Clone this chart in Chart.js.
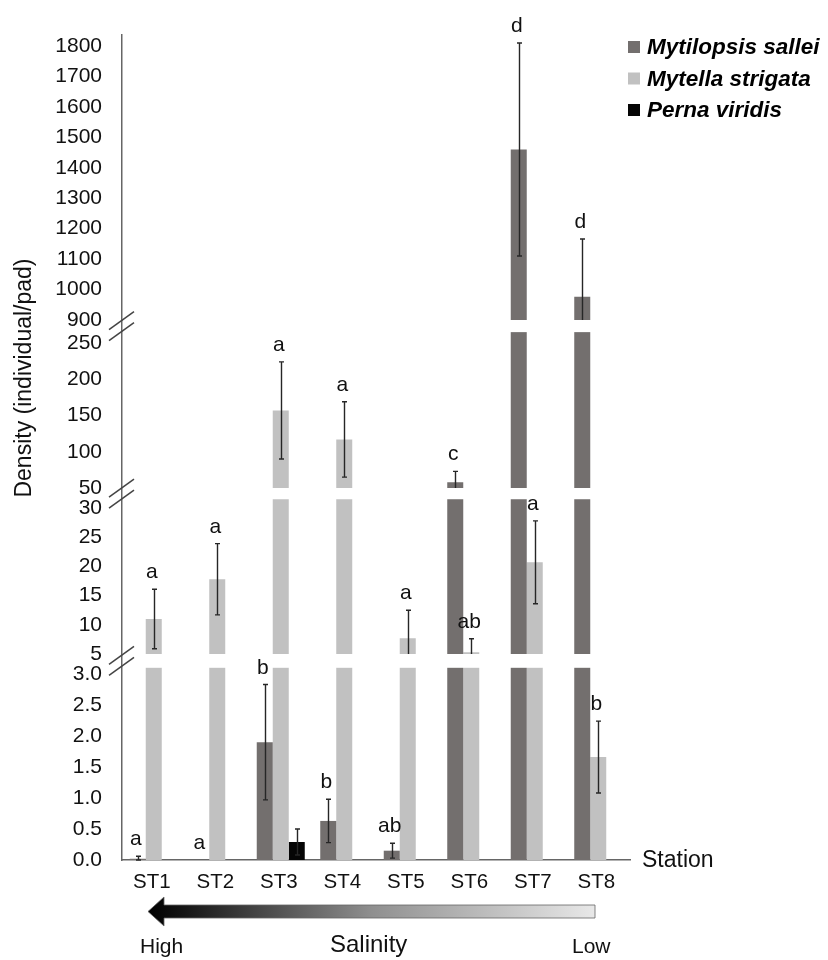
<!DOCTYPE html>
<html><head><meta charset="utf-8">
<script src="https://cdn.jsdelivr.net/npm/chart.js@4.4.1/dist/chart.umd.min.js"></script>
<style>html,body{margin:0;padding:0;background:#fff}#wrap{width:828px;height:960px}</style>
</head><body><div id="wrap"><canvas id="c" width="828" height="960"></canvas></div>
<script>
// ---------- data ----------
const stations = ['ST1','ST2','ST3','ST4','ST5','ST6','ST7','ST8'];
const seriesNames = ['Mytilopsis sallei','Mytella strigata','Perna viridis'];
const mytilopsisMean = [0.02, 0, 1.9, 0.63, 0.15, 58, 1460, 976];
const mytilopsisErr  = [0.04, 0, 0.93, 0.35, 0.12, 15, 350, 190];
const mytellaMean    = [11, 17.8, 157, 117, 7.7, 5.3, 20.7, 1.66];
const mytellaErr     = [5.1, 6.1, 67, 52, 4.8, 2.3, 7.1, 0.58];
const pernaMean      = [0, 0, 0.29, 0, 0, 0, 0, 0];
const pernaErr       = [0, 0, 0.21, 0, 0, 0, 0, 0];
const mytilopsisLetters = ['a','a','b','b','ab','c','d','d'];
const mytellaLetters    = ['a','a','a','a','a','ab','a','b'];
const pernaLetters      = ['','','','','','','',''];
const yTickValues = [0,0.5,1,1.5,2,2.5,3,5,10,15,20,25,30,50,100,150,200,250,900,1000,1100,1200,1300,1400,1500,1600,1700,1800];
const yTickLabels = ['0.0','0.5','1.0','1.5','2.0','2.5','3.0','5','10','15','20','25','30','50','100','150','200','250','900','1000','1100','1200','1300','1400','1500','1600','1700','1800'];

// ---------- styles / broken-axis layout ----------
const seriesColors = ['#736f6e','#c1c1c1','#050505'];
const FONT = "'Liberation Sans', Arial, sans-serif";
// axis pieces: value range [lo,hi] drawn from 'start' with k units per value
const segs = [
  {lo:0,   hi:3.1,  start:0,   k:62},
  {lo:5,   hi:31.5, start:206, k:5.84},
  {lo:50,  hi:265,  start:372, k:0.725},
  {lo:900, hi:1840, start:540, k:0.30444}
];
function segTop(i){ const s=segs[i]; return s.start+(s.hi-s.lo)*s.k; }
function segIndex(v){
  for(let i=segs.length-1;i>=0;i--){ if(v>=segs[i].lo) return i; }
  return 0;
}
function tf(v){
  if(v<=0) return 0;
  for(let i=0;i<segs.length;i++){
    const s=segs[i];
    if(v<=s.hi || i===segs.length-1){
      if(v>=s.lo) return s.start+(v-s.lo)*s.k;
      const pt=segTop(i-1), ph=segs[i-1].hi;
      return pt+(s.start-pt)*(v-ph)/(s.lo-ph);
    }
  }
}

const means=[mytilopsisMean,mytellaMean,pernaMean];
const errs=[mytilopsisErr,mytellaErr,pernaErr];
const letters=[mytilopsisLetters,mytellaLetters,pernaLetters];

const breakPlugin = {
  id:'breaks',
  afterDatasetsDraw(chart){
    const ctx=chart.ctx, y=chart.scales.y, ca=chart.chartArea;
    ctx.save();
    // error bars
    ctx.strokeStyle='#262626'; ctx.lineWidth=1.4;
    const tops=[[],[],[]];
    means.forEach((m,di)=>{
      const meta=chart.getDatasetMeta(di);
      meta.data.forEach((bar,i)=>{
        const e=errs[di][i];
        const cx=Math.round(bar.x)+0.5;
        if(!e){ tops[di][i]=y.getPixelForValue(tf(m[i])); return; }
        const si=segIndex(m[i]);
        const hiV=m[i]+e;
        let loV=Math.max(0,m[i]-e), lowCap=true;
        if(loV<segs[si].lo){ loV=segs[si].lo; lowCap=false; }
        const pt=y.getPixelForValue(tf(hiV));
        const pb=y.getPixelForValue(tf(loV));
        ctx.beginPath();
        ctx.moveTo(cx,pt); ctx.lineTo(cx,pb);
        ctx.moveTo(cx-2.5,pt); ctx.lineTo(cx+2.5,pt);
        if(lowCap){ ctx.moveTo(cx-2.5,pb); ctx.lineTo(cx+2.5,pb); }
        ctx.stroke();
        tops[di][i]=pt;
      });
    });
    // white gaps (axis breaks)
    ctx.fillStyle='#fff';
    const gapCenters=[];
    for(let i=0;i<segs.length-1;i++){
      const a=y.getPixelForValue(segTop(i)), b=y.getPixelForValue(segs[i+1].start);
      ctx.fillRect(ca.left+1.5,b,ca.right-ca.left,a-b);
      gapCenters.push((a+b)/2);
    }
    // break marks on the axis
    ctx.strokeStyle='#444'; ctx.lineWidth=1.5;
    gapCenters.forEach(yc=>{
      [-5.5,5.5].forEach(off=>{
        ctx.beginPath();
        ctx.moveTo(ca.left-13,yc+off+9);
        ctx.lineTo(ca.left+12,yc+off-9);
        ctx.stroke();
      });
    });
    // significance letters
    ctx.fillStyle='#111'; ctx.font='21px '+FONT; ctx.textAlign='center'; ctx.textBaseline='alphabetic';
    letters.forEach((L,di)=>{
      const meta=chart.getDatasetMeta(di);
      meta.data.forEach((bar,i)=>{
        if(L[i]) ctx.fillText(L[i],bar.x-2,tops[di][i]-11);
      });
    });
    ctx.restore();
  },
  afterDraw(chart){
    const ctx=chart.ctx;
    ctx.save();
    // y title
    ctx.fillStyle='#111';
    ctx.font='23px '+FONT;
    ctx.translate(25,378); ctx.rotate(-Math.PI/2);
    ctx.textAlign='center'; ctx.textBaseline='middle';
    ctx.fillText('Density (individual/pad)',0,0);
    ctx.setTransform(1,0,0,1,0,0);
    // x title
    ctx.font='23px '+FONT; ctx.textAlign='left'; ctx.textBaseline='middle';
    ctx.fillText('Station',642,861);
    // legend
    chart.data.datasets.forEach((ds,i)=>{
      const yc=47+i*31.5;
      ctx.fillStyle=ds.backgroundColor;
      ctx.fillRect(628,yc-6,12,12);
      ctx.fillStyle='#000';
      ctx.font='italic bold 22.5px '+FONT;
      ctx.textBaseline='middle';
      ctx.fillText(ds.label,647,yc+1);
    });
    // salinity gradient arrow
    const g=ctx.createLinearGradient(148,0,595,0);
    g.addColorStop(0,'#000'); g.addColorStop(0.08,'#151515');
    g.addColorStop(0.5,'#8f8f8f'); g.addColorStop(1,'#e8e8e8');
    ctx.beginPath();
    ctx.moveTo(148,911.5);
    ctx.lineTo(164,897);
    ctx.lineTo(164,905);
    ctx.lineTo(595,905);
    ctx.lineTo(595,918);
    ctx.lineTo(164,918);
    ctx.lineTo(164,926);
    ctx.closePath();
    ctx.fillStyle=g; ctx.fill();
    ctx.strokeStyle='#666'; ctx.lineWidth=0.8; ctx.stroke();
    ctx.fillStyle='#111'; ctx.textBaseline='alphabetic';
    ctx.font='21px '+FONT; ctx.textAlign='left';
    ctx.fillText('High',140,953);
    ctx.fillText('Low',572,953);
    ctx.font='24px '+FONT;
    ctx.fillText('Salinity',330,952);
    ctx.restore();
  }
};

new Chart(document.getElementById('c').getContext('2d'),{
  type:'bar',
  data:{
    labels:stations,
    datasets:seriesNames.map((n,i)=>({
      label:n,
      data:means[i].map(tf),
      backgroundColor:seriesColors[i],
      borderWidth:0,
      barPercentage:1,
      categoryPercentage:0.756
    }))
  },
  options:{
    responsive:false, animation:false, devicePixelRatio:1,
    layout:{padding:{left:0,right:198,top:35,bottom:0}},
    plugins:{legend:{display:false},tooltip:{enabled:false}},
    scales:{
      x:{
        grid:{display:false,drawTicks:false},
        border:{display:true,color:'#666',width:1.5},
        ticks:{font:{size:20.5,family:FONT},color:'#111',padding:10,maxRotation:0,labelOffset:-2},
        afterFit(s){ s.height=100; }
      },
      y:{
        min:0,max:825,
        grid:{display:false,drawTicks:false},
        border:{display:true,color:'#666',width:1.5},
        ticks:{autoSkip:false,padding:20,font:{size:21,family:FONT},color:'#111',
          callback:(v,i)=>yTickLabels[i]},
        afterBuildTicks(s){ s.ticks=yTickValues.map(v=>({value:tf(v)})); },
        afterFit(s){ s.width=122; }
      }
    }
  },
  plugins:[breakPlugin]
});
</script></body></html>
